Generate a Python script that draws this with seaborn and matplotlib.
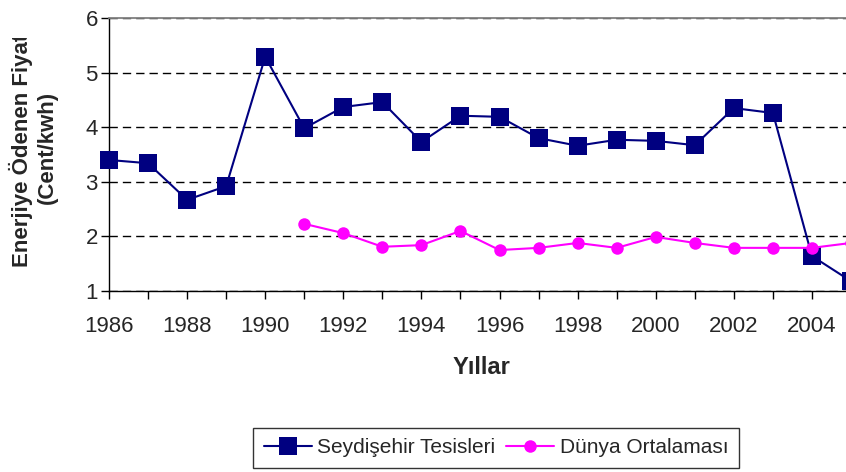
import numpy as np
import pandas as pd
import seaborn as sns
import matplotlib.pyplot as plt
from matplotlib.ticker import MultipleLocator
from matplotlib.transforms import Bbox

years = list(range(1986, 2006))
seydisehir = [3.40, 3.34, 2.67, 2.92, 5.29, 3.98, 4.37, 4.46, 3.73, 4.21,
              4.19, 3.80, 3.66, 3.77, 3.75, 3.67, 4.35, 4.26, 1.64, 1.18]
dunya_years = list(range(1991, 2006))
dunya = [2.23, 2.06, 1.81, 1.84, 2.10, 1.75, 1.79, 1.88, 1.79, 1.99,
         1.88, 1.79, 1.79, 1.79, 1.88]

df1 = pd.DataFrame({"Yil": years, "Fiyat": seydisehir})
df2 = pd.DataFrame({"Yil": dunya_years, "Fiyat": dunya})

sns.set_style("white")
plt.rcParams['font.family'] = ['Liberation Sans', 'DejaVu Sans']

W, H = 846, 472
fig = plt.figure(figsize=(W/100, H/100), dpi=100)
ax = fig.add_axes([109/W, 1-291/H, (851-109)/W, (291-18)/H])

ax.yaxis.grid(True, color="black", linestyle=(0, (6, 3.6)), linewidth=1)
ax.set_axisbelow(True)

sns.lineplot(data=df1, x="Yil", y="Fiyat", ax=ax, color="#000080", marker="s",
             markersize=13, markeredgewidth=0, linewidth=1.5,
             label="Seydişehir Tesisleri", clip_on=False, zorder=3)
sns.lineplot(data=df2, x="Yil", y="Fiyat", ax=ax, color="#FF00FF", marker="o",
             markersize=9, markeredgewidth=0, linewidth=1.5,
             label="Dünya Ortalaması", clip_on=False, zorder=3)

ax.set_xlim(1986, 2005)
ax.set_ylim(1, 6)
ax.xaxis.set_major_locator(MultipleLocator(2))
ax.xaxis.set_minor_locator(MultipleLocator(1))
ax.yaxis.set_major_locator(MultipleLocator(1))
ax.tick_params(axis="both", which="both", direction="out", length=6, width=1,
               color="black", labelsize=16, bottom=True, left=True)
ax.tick_params(axis="x", pad=12)
ax.tick_params(axis="y", pad=2)

for s in ["left", "bottom"]:
    ax.spines[s].set_color("black")
    ax.spines[s].set_linewidth(1)
ax.spines["top"].set_color("#808080")
ax.spines["top"].set_linewidth(1.3)
ax.spines["right"].set_visible(False)

ax.set_xlabel("")
ax.set_ylabel("")
fig.text(481/W, 1-367/H, "Yıllar", fontsize=17, fontweight="bold",
         ha="center", va="center")
yl = fig.text(33.5/W, 1-147/H, "Enerjiye Ödenen Fiyatı\n(Cent/kwh)",
              fontsize=16, fontweight="bold", rotation=90, ha="center",
              va="center", multialignment="center")
# the original label is cut at the top of its box
yl.set_clip_box(Bbox([[0, 0], [W, H-38]]))
yl.set_clip_on(True)

ax.get_legend().remove()
h, l = ax.get_legend_handles_labels()
leg = fig.legend(h, l, loc="upper center", bbox_to_anchor=(496/W, 1-428/H),
                 ncol=2, fontsize=15, frameon=True, fancybox=False,
                 edgecolor="black", handlelength=2.3, handletextpad=0.25,
                 columnspacing=0.55, borderpad=0.5, borderaxespad=0)
leg.get_frame().set_linewidth(1)

fig.savefig("out.png", dpi=100)
